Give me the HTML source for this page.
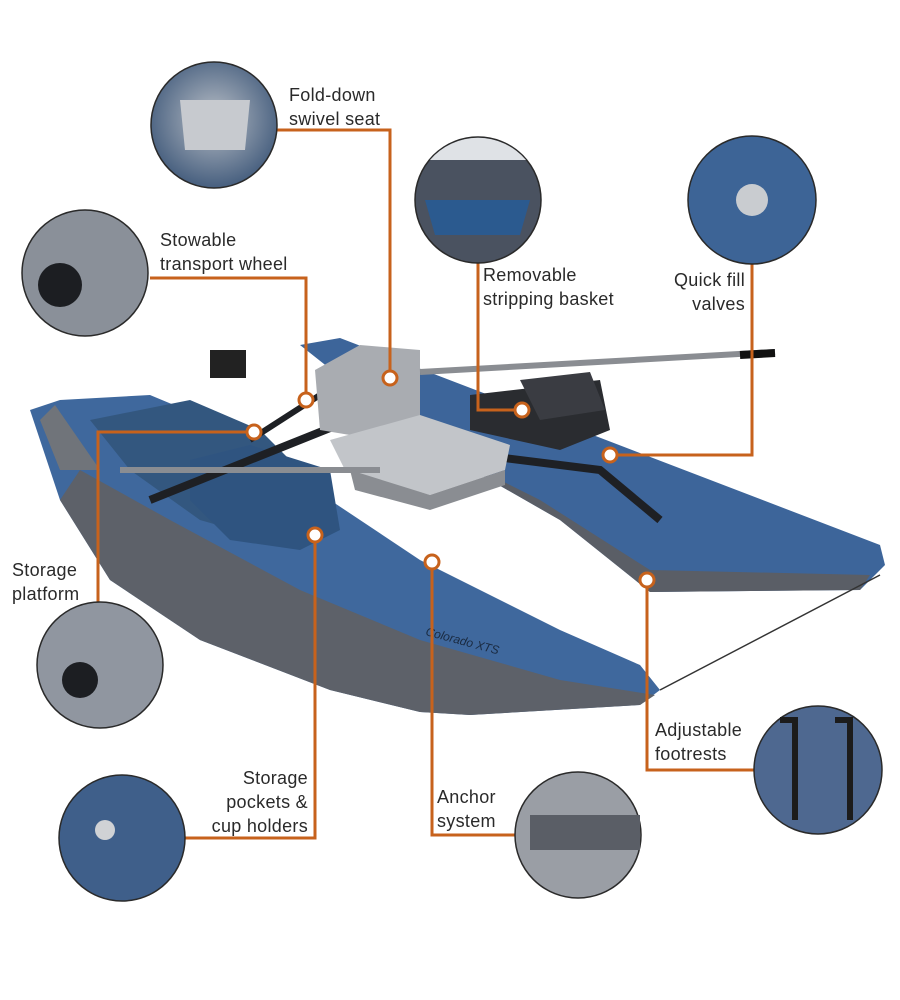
<!DOCTYPE html>
<html><head><meta charset="utf-8"><style>
html,body{margin:0;padding:0;background:#fff}
.w{position:relative;width:900px;height:1000px;overflow:hidden;font-family:"Liberation Sans",sans-serif}
.l{position:absolute;font-size:18px;line-height:24px;color:#2a2a2a;letter-spacing:0.3px}
svg{position:absolute;left:0;top:0}
</style></head><body><div class="w">
<svg width="900" height="1000" viewBox="0 0 900 1000">
<defs>
<radialGradient id="cg" cx="50%" cy="45%" r="60%"><stop offset="0" stop-color="#b8bec6"/><stop offset="1" stop-color="#3c5678"/></radialGradient>
</defs>
<path d="M300 345 L340 338 L880 545 L885 565 L860 590 L650 592 L560 520 L420 440 Z" fill="#3d659a"/>
<path d="M420 440 L560 520 L650 592 L860 590 L870 575 L650 570 L540 500 Z" fill="#5a5e66"/>
<path d="M30 410 L60 400 L150 395 L210 420 L420 560 L560 630 L640 665 L660 690 L640 705 L470 715 L420 712 L330 690 L200 640 L110 580 L60 500 Z" fill="#3f689d"/>
<path d="M60 500 L110 580 L200 640 L330 690 L420 712 L470 715 L640 705 L655 695 L560 680 L420 640 L300 590 L170 520 L80 470 Z" fill="#5d6169"/>
<path d="M40 420 L55 405 L100 470 L60 470 Z" fill="#70747a"/>
<path d="M90 420 L190 400 L260 430 L300 470 L330 520 L270 540 L200 520 L130 470 Z" fill="#33577f"/>
<path d="M190 460 L250 445 L330 470 L340 530 L300 550 L230 540 L190 500 Z" fill="#2f5480"/>
<path d="M150 500 L350 420 L440 450 L600 470 L660 520" stroke="#1e2024" stroke-width="8" fill="none"/>
<path d="M250 440 L320 395 L420 420" stroke="#1e2024" stroke-width="6" fill="none"/>
<rect x="210" y="350" width="36" height="28" fill="#222"/>
<path d="M315 370 L360 345 L420 350 L420 420 L380 440 L320 430 Z" fill="#a9acb1"/>
<path d="M330 440 L420 415 L510 445 L505 470 L430 495 L345 470 Z" fill="#c2c5c9"/>
<path d="M350 470 L430 495 L505 470 L505 485 L430 510 L355 490 Z" fill="#8a8d92"/>
<path d="M470 395 L600 380 L610 430 L560 450 L470 430 Z" fill="#2a2c30"/>
<path d="M520 380 L590 372 L605 410 L540 420 Z" fill="#3a3c42"/>
<path d="M420 372 L775 352" stroke="#8a8d92" stroke-width="6"/>
<path d="M120 470 L380 470" stroke="#8a8d92" stroke-width="6"/>
<path d="M740 355 L775 353" stroke="#111" stroke-width="8"/>
<path d="M660 690 L880 575" stroke="#333" stroke-width="1.5"/>
<text x="425" y="635" font-family="Liberation Sans" font-size="12" font-style="italic" fill="#1a2a40" transform="rotate(15 425 635)">Colorado XTS</text>
<g stroke="#c7621c" stroke-width="3" fill="none">
<path d="M276 130 H390 V378"/>
<path d="M150 278 H306 V400"/>
<path d="M478 263 V410 H522"/>
<path d="M752 264 V455 H610"/>
<path d="M254 432 H98 V602"/>
<path d="M315 535 V838 H185"/>
<path d="M432 562 V835 H515"/>
<path d="M647 580 V770 H754"/>
</g>
<g fill="#fff" stroke="#c7621c" stroke-width="3">
<circle cx="390" cy="378" r="7"/><circle cx="306" cy="400" r="7"/><circle cx="522" cy="410" r="7"/>
<circle cx="610" cy="455" r="7"/><circle cx="254" cy="432" r="7"/><circle cx="315" cy="535" r="7"/>
<circle cx="432" cy="562" r="7"/><circle cx="647" cy="580" r="7"/>
</g>
<g stroke="#2a2a2a" stroke-width="1.5">
<circle cx="214" cy="125" r="63" fill="url(#cg)"/>
<circle cx="85" cy="273" r="63" fill="#8a9099"/>
<circle cx="478" cy="200" r="63" fill="#4a5260"/>
<circle cx="752" cy="200" r="64" fill="#3d6496"/>
<circle cx="100" cy="665" r="63" fill="#9096a0"/>
<circle cx="122" cy="838" r="63" fill="#3f5f8a"/>
<circle cx="578" cy="835" r="63" fill="#9a9ea5"/>
<circle cx="818" cy="770" r="64" fill="#4e6890"/>
</g>
<path d="M180 100 L250 100 L245 150 L185 150 Z" fill="#c7cacf"/>
<circle cx="752" cy="200" r="16" fill="#c9ccd0"/>
<path d="M430 160 L526 160 A63 63 0 0 0 430 160 Z" fill="#dfe2e6"/>
<path d="M425 200 L530 200 L520 235 L435 235 Z" fill="#2b5a8f"/>
<circle cx="60" cy="285" r="22" fill="#1c1e22"/>
<circle cx="80" cy="680" r="18" fill="#1c1e22"/>
<circle cx="105" cy="830" r="10" fill="#d0d2d5"/>
<path d="M530 815 L640 815 L640 850 L530 850 Z" fill="#5a5e66"/>
<path d="M780 720 L795 720 L795 820 M835 720 L850 720 L850 820" stroke="#1c1c1c" stroke-width="6" fill="none"/>
</svg>
<div class="l" style="left:289px;top:83px">Fold-down<br>swivel seat</div>
<div class="l" style="left:160px;top:228px">Stowable<br>transport wheel</div>
<div class="l" style="left:483px;top:263px">Removable<br>stripping basket</div>
<div class="l" style="left:645px;top:268px;width:100px;text-align:right">Quick fill<br>valves</div>
<div class="l" style="left:12px;top:558px">Storage<br>platform</div>
<div class="l" style="left:188px;top:766px;width:120px;text-align:right">Storage<br>pockets &amp;<br>cup holders</div>
<div class="l" style="left:437px;top:785px">Anchor<br>system</div>
<div class="l" style="left:655px;top:718px">Adjustable<br>footrests</div>
</div></body></html>
